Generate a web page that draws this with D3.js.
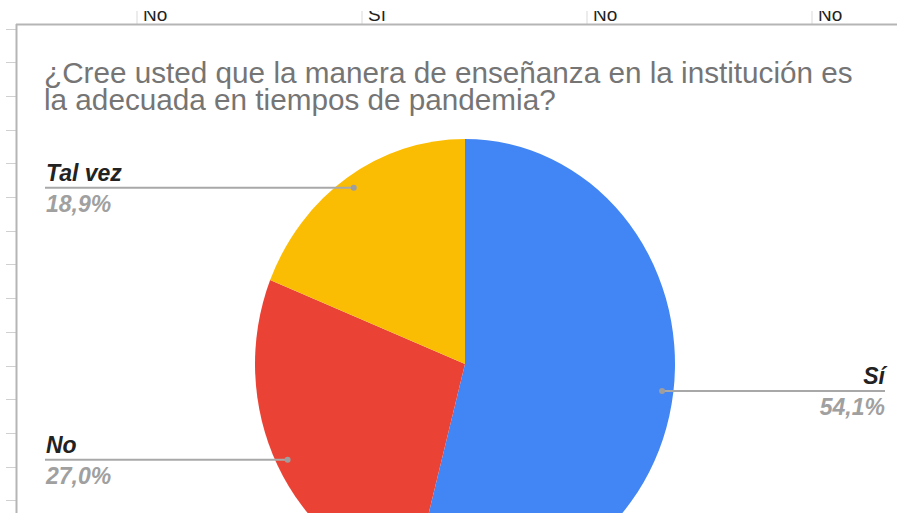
<!DOCTYPE html>
<html>
<head>
<meta charset="utf-8">
<script src="https://cdn.jsdelivr.net/npm/d3@7"></script>
<style>
html,body{margin:0;padding:0;background:#fff;}
svg{display:block;}
text{font-family:Arial,"Liberation Sans",sans-serif;}
</style>
</head>
<body>
<script>
// ---- data ----
const categories = ["Sí", "No", "Tal vez"];
const counts = [20, 10, 7];
const colors = ["#4285f4", "#ea4335", "#fbbc04"];
const titleLines = ["¿Cree usted que la manera de enseñanza en la institución es",
                    "la adecuada en tiempos de pandemia?"];
const headerCells = ["No", "Sí", "No", "No"];

const W = 897, H = 513;
const svg = d3.select("body").append("svg").attr("width", W).attr("height", H);

// ---- spreadsheet background bits ----
const defs = svg.append("defs");
defs.append("clipPath").attr("id", "hdrclip").append("rect")
  .attr("x", 0).attr("y", 11).attr("width", W).attr("height", 13);

const colX = d3.scaleLinear().domain([0, 1]).range([137, 362]);
const hdr = svg.append("g").attr("clip-path", "url(#hdrclip)");
headerCells.forEach((t, i) => {
  const x = colX(i);
  hdr.append("line").attr("x1", x).attr("x2", x).attr("y1", 11).attr("y2", 24)
    .attr("stroke", "#d9d9d9").attr("stroke-width", 1);
  hdr.append("text").attr("x", x + 6).attr("y", 20.5)
    .attr("font-size", 19).attr("fill", "#222").text(t);
});

// row ticks on the left
const rowY = d3.scaleLinear().domain([0, 1]).range([28.5, 62.2]);
d3.range(0, 15).forEach(i => {
  const y = Math.round(rowY(i)) + 0.5;
  svg.append("line").attr("x1", 6).attr("x2", 16).attr("y1", y).attr("y2", y)
    .attr("stroke", "#d0d0d0").attr("stroke-width", 1);
});

// chart frame
svg.append("line").attr("x1", 16).attr("x2", W).attr("y1", 24.5).attr("y2", 24.5)
  .attr("stroke", "#b5b5b5").attr("stroke-width", 2);
svg.append("line").attr("x1", 16.5).attr("x2", 16.5).attr("y1", 24).attr("y2", H)
  .attr("stroke", "#b5b5b5").attr("stroke-width", 2);

// ---- title ----
titleLines.forEach((t, i) => {
  svg.append("text").attr("x", 44).attr("y", 83 + i * 26.5)
    .attr("font-size", 29.7).attr("fill", "#757575").text(t);
});

// ---- pie ----
const cx = 465, cy = 364, rx = 210, ry = 225;
const pie = d3.pie().sort(null).value(d => d.v);
const data = categories.map((c, i) => ({ c, v: counts[i], col: colors[i] }));
const arcs = pie(data);
const total = d3.sum(counts);
const arc = d3.arc().innerRadius(0).outerRadius(rx);

const pg = svg.append("g").attr("transform", `translate(${cx},${cy}) scale(1,${ry / rx})`);
pg.selectAll("path").data(arcs).enter().append("path")
  .attr("d", arc).attr("fill", d => d.data.col);

// ---- labels ----
const loc = d3.formatLocale({ decimal: ",", thousands: ".", grouping: [3], currency: ["", ""] });
const fmt = loc.format(".1%");
const dotR = 0.946;

arcs.forEach(a => {
  const m = (a.startAngle + a.endAngle) / 2;
  const dx = cx + Math.sin(m) * rx * dotR;
  const dy = cy - Math.cos(m) * ry * dotR;
  const right = Math.sin(m) > 0;
  const x0 = right ? dx : 45, x1 = right ? 885 : dx;
  svg.append("line").attr("x1", x0).attr("x2", x1).attr("y1", dy).attr("y2", dy)
    .attr("stroke", "#a8a8a8").attr("stroke-width", 2);
  svg.append("circle").attr("cx", dx).attr("cy", dy).attr("r", 3).attr("fill", "#9e9e9e");
  const tx = right ? 885 : 46;
  const anchor = right ? "end" : "start";
  svg.append("text").attr("x", tx).attr("y", dy - 7).attr("text-anchor", anchor)
    .attr("font-size", 23).attr("font-weight", "bold").attr("font-style", "italic")
    .attr("fill", "#222").text(a.data.c);
  svg.append("text").attr("x", tx).attr("y", dy + 24).attr("text-anchor", anchor)
    .attr("font-size", 23).attr("font-weight", "bold").attr("font-style", "italic")
    .attr("fill", "#a0a0a0").text(fmt(a.data.v / total));
});
</script>
</body>
</html>
